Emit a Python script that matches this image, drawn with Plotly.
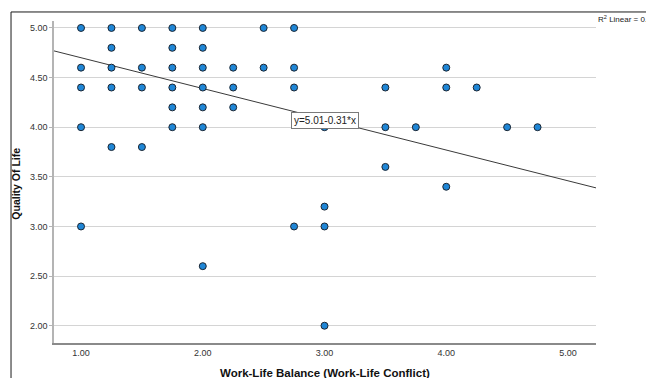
import plotly.graph_objects as go

# Data
wlb_conflict = [1.00, 1.00, 1.00, 1.00, 1.00,
                1.25, 1.25, 1.25, 1.25, 1.25,
                1.50, 1.50, 1.50, 1.50,
                1.75, 1.75, 1.75, 1.75, 1.75, 1.75,
                2.00, 2.00, 2.00, 2.00, 2.00, 2.00, 2.00,
                2.25, 2.25, 2.25,
                2.50, 2.50,
                2.75, 2.75, 2.75, 2.75,
                3.00, 3.00, 3.00, 3.00,
                3.50, 3.50, 3.50,
                3.75,
                4.00, 4.00, 4.00,
                4.25, 4.50, 4.75]
quality_of_life = [5.0, 4.6, 4.4, 4.0, 3.0,
                   5.0, 4.8, 4.6, 4.4, 3.8,
                   5.0, 4.6, 4.4, 3.8,
                   5.0, 4.8, 4.6, 4.4, 4.2, 4.0,
                   5.0, 4.8, 4.6, 4.4, 4.2, 4.0, 2.6,
                   4.6, 4.4, 4.2,
                   5.0, 4.6,
                   5.0, 4.6, 4.4, 3.0,
                   4.0, 3.2, 3.0, 2.0,
                   4.4, 4.0, 3.6,
                   4.0,
                   4.6, 4.4, 3.4,
                   4.4, 4.0, 4.0]
fit_intercept = 5.01
fit_slope = -0.31
r2_label = "R<sup>2</sup> Linear = 0.2"
x_ticks = [1.0, 2.0, 3.0, 4.0, 5.0]
y_ticks = [2.0, 2.5, 3.0, 3.5, 4.0, 4.5, 5.0]

x_range = [0.778, 5.23]
y_range = [1.826, 5.07]

fig = go.Figure()

fit_x = [x_range[0], x_range[1]]
fit_y = [fit_intercept + fit_slope * v for v in fit_x]
fig.add_trace(go.Scatter(x=fit_x, y=fit_y, mode="lines",
                         line=dict(color="#3a3a3a", width=1), hoverinfo="skip",
                         showlegend=False))

fig.add_trace(go.Scatter(x=wlb_conflict, y=quality_of_life, mode="markers",
                         marker=dict(size=7, color="#1f86d6",
                                     line=dict(color="#1b2633", width=1)),
                         showlegend=False))

font = "Liberation Sans, Arial, sans-serif"

# page body has an 8px margin, so the figure is made 8px smaller
fig.update_layout(
    width=646, height=370,
    margin=dict(l=46, r=58, t=13, b=35),
    paper_bgcolor="white", plot_bgcolor="white",
    font=dict(family=font, color="#333333", size=9),
    xaxis=dict(range=x_range, tickvals=x_ticks,
               ticktext=[f"{v:.2f}" for v in x_ticks],
               showgrid=False, zeroline=False,
               showline=True, linecolor="#8a8a8a", linewidth=1.5,
               ticks="", tickfont=dict(size=9, color="#333333")),
    yaxis=dict(range=y_range, tickvals=y_ticks,
               ticktext=[f"{v:.2f}" for v in y_ticks],
               showgrid=True, gridcolor="#d4d4d4", gridwidth=1,
               zeroline=False, showline=True, linecolor="#b4b4b4", linewidth=1.5,
               ticks="outside", ticklen=3, tickcolor="#b4b4b4",
               tickfont=dict(size=9, color="#333333")),
)

# outer frame lines (left and top)
fig.add_shape(type="line", xref="paper", yref="paper",
              x0=-0.0793, x1=-0.0793, y0=1.028, y1=-0.12,
              line=dict(color="#1a1a1a", width=1))
fig.add_shape(type="line", xref="paper", yref="paper",
              x0=-0.0793, x1=1.11, y0=1.028, y1=1.028,
              line=dict(color="#1a1a1a", width=1))

# equation label
fig.add_annotation(x=3.0, y=4.064, xref="x", yref="y",
                   text=f"y={fit_intercept:.2f}{fit_slope:.2f}*x",
                   showarrow=False, bgcolor="white", bordercolor="#7a7a7a",
                   borderwidth=1, borderpad=2,
                   font=dict(size=10, color="#222222", family=font))

# R2 label
fig.add_annotation(x=1.0, y=1.006, xref="paper", yref="paper",
                   xanchor="left", yanchor="middle", text=r2_label,
                   showarrow=False, font=dict(size=8, color="#222222", family=font))

# axis titles
fig.add_annotation(x=-0.07, y=0.495, xref="paper", yref="paper",
                   text="<b>Quality Of Life</b>", textangle=-90, showarrow=False,
                   xanchor="center", yanchor="middle",
                   font=dict(size=10.5, color="#111111", family=font))
fig.add_annotation(x=0.5, y=-0.068, xref="paper", yref="paper",
                   text="<b>Work-Life Balance (Work-Life Conflict)</b>", showarrow=False,
                   xanchor="center", yanchor="top",
                   font=dict(size=11.5, color="#111111", family=font))

fig.write_html("out.html")
